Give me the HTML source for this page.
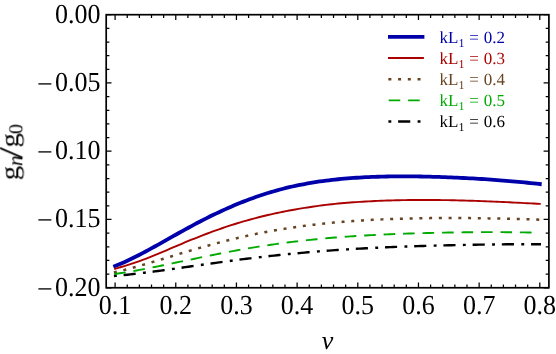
<!DOCTYPE html>
<html>
<head>
<meta charset="utf-8">
<title>g_n/g_0 vs nu</title>
<style>
html, body { margin: 0; padding: 0; background: #ffffff; }
body { width: 556px; height: 354px; overflow: hidden; }
svg { display: block; }
text { font-family: "Liberation Serif", serif; fill: #000; text-rendering: geometricPrecision; }
.tick { font-size: 26px; }
.leg { font-size: 17px; word-spacing: 0.6px; }
</style>
</head>
<body>
<svg width="556" height="354" viewBox="0 0 556 354">
<rect x="0" y="0" width="556" height="354" fill="#ffffff"/>
<g fill="none" stroke-linecap="square" stroke-linejoin="round">
<path d="M115.10 266.10 L118.16 264.84 L121.21 263.52 L124.27 262.15 L127.32 260.74 L130.38 259.29 L133.43 257.80 L136.49 256.27 L139.54 254.71 L142.60 253.12 L145.65 251.51 L148.71 249.87 L151.76 248.20 L154.82 246.52 L157.88 244.81 L160.93 243.09 L163.99 241.36 L167.04 239.64 L170.10 237.91 L173.15 236.18 L176.21 234.47 L179.26 232.76 L182.32 231.06 L185.37 229.38 L188.43 227.71 L191.48 226.05 L194.54 224.42 L197.60 222.80 L200.65 221.21 L203.71 219.64 L206.76 218.09 L209.82 216.57 L212.87 215.07 L215.93 213.61 L218.98 212.16 L222.04 210.75 L225.09 209.36 L228.15 208.00 L231.21 206.67 L234.26 205.36 L237.32 204.08 L240.37 202.84 L243.43 201.62 L246.48 200.43 L249.54 199.28 L252.59 198.16 L255.65 197.08 L258.70 196.02 L261.76 195.00 L264.81 194.02 L267.87 193.06 L270.93 192.13 L273.98 191.23 L277.04 190.37 L280.09 189.54 L283.15 188.73 L286.20 187.96 L289.26 187.22 L292.31 186.52 L295.37 185.84 L298.42 185.20 L301.48 184.59 L304.53 184.01 L307.59 183.46 L310.65 182.93 L313.70 182.42 L316.76 181.94 L319.81 181.49 L322.87 181.06 L325.92 180.65 L328.98 180.27 L332.03 179.91 L335.09 179.56 L338.14 179.25 L341.20 178.95 L344.25 178.67 L347.31 178.41 L350.37 178.16 L353.42 177.94 L356.48 177.73 L359.53 177.54 L362.59 177.37 L365.64 177.21 L368.70 177.07 L371.75 176.94 L374.81 176.83 L377.86 176.73 L380.92 176.64 L383.97 176.56 L387.03 176.50 L390.09 176.45 L393.14 176.41 L396.20 176.39 L399.25 176.37 L402.31 176.36 L405.36 176.36 L408.42 176.38 L411.47 176.40 L414.53 176.43 L417.58 176.47 L420.64 176.52 L423.69 176.57 L426.75 176.64 L429.81 176.71 L432.86 176.79 L435.92 176.88 L438.97 176.97 L442.03 177.07 L445.08 177.18 L448.14 177.30 L451.19 177.42 L454.25 177.55 L457.30 177.69 L460.36 177.83 L463.42 177.98 L466.47 178.14 L469.53 178.30 L472.58 178.47 L475.64 178.65 L478.69 178.83 L481.75 179.02 L484.80 179.22 L487.86 179.42 L490.91 179.63 L493.97 179.85 L497.02 180.08 L500.08 180.31 L503.14 180.55 L506.19 180.80 L509.25 181.06 L512.30 181.32 L515.36 181.59 L518.41 181.87 L521.47 182.16 L524.52 182.45 L527.58 182.75 L530.63 183.06 L533.69 183.38 L536.74 183.71 L539.80 184.04" stroke="#0000aa" stroke-width="3.8"/>
<path d="M115.10 268.84 L118.16 267.93 L121.21 267.01 L124.27 266.07 L127.32 265.12 L130.38 264.15 L133.43 263.15 L136.49 262.12 L139.54 261.04 L142.60 259.93 L145.65 258.77 L148.71 257.56 L151.76 256.35 L154.82 255.12 L157.88 253.87 L160.93 252.60 L163.99 251.32 L167.04 250.02 L170.10 248.72 L173.15 247.42 L176.21 246.11 L179.26 244.81 L182.32 243.52 L185.37 242.24 L188.43 240.98 L191.48 239.74 L194.54 238.51 L197.60 237.29 L200.65 236.09 L203.71 234.91 L206.76 233.75 L209.82 232.60 L212.87 231.48 L215.93 230.37 L218.98 229.29 L222.04 228.23 L225.09 227.20 L228.15 226.18 L231.21 225.19 L234.26 224.22 L237.32 223.27 L240.37 222.35 L243.43 221.44 L246.48 220.56 L249.54 219.71 L252.59 218.87 L255.65 218.06 L258.70 217.26 L261.76 216.49 L264.81 215.75 L267.87 215.02 L270.93 214.32 L273.98 213.64 L277.04 212.98 L280.09 212.34 L283.15 211.72 L286.20 211.12 L289.26 210.54 L292.31 209.99 L295.37 209.45 L298.42 208.92 L301.48 208.42 L304.53 207.93 L307.59 207.45 L310.65 206.98 L313.70 206.53 L316.76 206.10 L319.81 205.68 L322.87 205.28 L325.92 204.90 L328.98 204.53 L332.03 204.19 L335.09 203.87 L338.14 203.56 L341.20 203.28 L344.25 203.02 L347.31 202.76 L350.37 202.53 L353.42 202.30 L356.48 202.09 L359.53 201.88 L362.59 201.69 L365.64 201.52 L368.70 201.35 L371.75 201.19 L374.81 201.05 L377.86 200.91 L380.92 200.79 L383.97 200.67 L387.03 200.57 L390.09 200.47 L393.14 200.38 L396.20 200.30 L399.25 200.23 L402.31 200.17 L405.36 200.12 L408.42 200.07 L411.47 200.04 L414.53 200.01 L417.58 199.99 L420.64 199.97 L423.69 199.97 L426.75 199.97 L429.81 199.98 L432.86 199.99 L435.92 200.01 L438.97 200.04 L442.03 200.08 L445.08 200.12 L448.14 200.17 L451.19 200.23 L454.25 200.29 L457.30 200.35 L460.36 200.43 L463.42 200.51 L466.47 200.59 L469.53 200.68 L472.58 200.78 L475.64 200.88 L478.69 200.99 L481.75 201.10 L484.80 201.22 L487.86 201.34 L490.91 201.47 L493.97 201.60 L497.02 201.74 L500.08 201.88 L503.14 202.02 L506.19 202.16 L509.25 202.31 L512.30 202.46 L515.36 202.61 L518.41 202.77 L521.47 202.92 L524.52 203.08 L527.58 203.23 L530.63 203.39 L533.69 203.54 L536.74 203.69 L539.80 203.84" stroke="#aa0000" stroke-width="1.9"/>
<path d="M115.10 272.20 L118.16 271.50 L121.21 270.77 L124.27 270.01 L127.32 269.22 L130.38 268.41 L133.43 267.59 L136.49 266.74 L139.54 265.87 L142.60 265.00 L145.65 264.10 L148.71 263.20 L151.76 262.29 L154.82 261.37 L157.88 260.45 L160.93 259.52 L163.99 258.59 L167.04 257.66 L170.10 256.73 L173.15 255.80 L176.21 254.87 L179.26 253.94 L182.32 253.02 L185.37 252.11 L188.43 251.20 L191.48 250.30 L194.54 249.40 L197.60 248.52 L200.65 247.64 L203.71 246.77 L206.76 245.92 L209.82 245.07 L212.87 244.24 L215.93 243.42 L218.98 242.61 L222.04 241.82 L225.09 241.04 L228.15 240.27 L231.21 239.52 L234.26 238.78 L237.32 238.05 L240.37 237.34 L243.43 236.64 L246.48 235.96 L249.54 235.30 L252.59 234.65 L255.65 234.01 L258.70 233.39 L261.76 232.78 L264.81 232.19 L267.87 231.62 L270.93 231.05 L273.98 230.51 L277.04 229.98 L280.09 229.46 L283.15 228.96 L286.20 228.47 L289.26 228.00 L292.31 227.54 L295.37 227.09 L298.42 226.66 L301.48 226.24 L304.53 225.84 L307.59 225.45 L310.65 225.07 L313.70 224.70 L316.76 224.35 L319.81 224.01 L322.87 223.68 L325.92 223.36 L328.98 223.06 L332.03 222.76 L335.09 222.48 L338.14 222.21 L341.20 221.95 L344.25 221.70 L347.31 221.46 L350.37 221.23 L353.42 221.01 L356.48 220.80 L359.53 220.60 L362.59 220.40 L365.64 220.22 L368.70 220.05 L371.75 219.88 L374.81 219.72 L377.86 219.57 L380.92 219.43 L383.97 219.30 L387.03 219.17 L390.09 219.05 L393.14 218.94 L396.20 218.84 L399.25 218.74 L402.31 218.65 L405.36 218.57 L408.42 218.49 L411.47 218.42 L414.53 218.35 L417.58 218.29 L420.64 218.24 L423.69 218.19 L426.75 218.15 L429.81 218.12 L432.86 218.09 L435.92 218.06 L438.97 218.04 L442.03 218.03 L445.08 218.02 L448.14 218.01 L451.19 218.01 L454.25 218.02 L457.30 218.03 L460.36 218.04 L463.42 218.06 L466.47 218.09 L469.53 218.11 L472.58 218.15 L475.64 218.18 L478.69 218.22 L481.75 218.27 L484.80 218.32 L487.86 218.37 L490.91 218.42 L493.97 218.48 L497.02 218.54 L500.08 218.61 L503.14 218.68 L506.19 218.75 L509.25 218.82 L512.30 218.90 L515.36 218.98 L518.41 219.06 L521.47 219.14 L524.52 219.22 L527.58 219.31 L530.63 219.40 L533.69 219.48 L536.74 219.57 L539.80 219.66" stroke="#664422" stroke-width="2.5" stroke-dasharray="0.50 9.24"/>
<path d="M115.10 273.93 L118.16 273.50 L121.21 273.05 L124.27 272.57 L127.32 272.08 L130.38 271.56 L133.43 271.03 L136.49 270.49 L139.54 269.93 L142.60 269.36 L145.65 268.78 L148.71 268.19 L151.76 267.59 L154.82 266.97 L157.88 266.36 L160.93 265.73 L163.99 265.10 L167.04 264.47 L170.10 263.83 L173.15 263.19 L176.21 262.55 L179.26 261.91 L182.32 261.27 L185.37 260.62 L188.43 259.98 L191.48 259.34 L194.54 258.70 L197.60 258.07 L200.65 257.44 L203.71 256.81 L206.76 256.19 L209.82 255.57 L212.87 254.96 L215.93 254.35 L218.98 253.75 L222.04 253.16 L225.09 252.58 L228.15 252.00 L231.21 251.43 L234.26 250.86 L237.32 250.31 L240.37 249.76 L243.43 249.22 L246.48 248.70 L249.54 248.18 L252.59 247.67 L255.65 247.17 L258.70 246.67 L261.76 246.19 L264.81 245.72 L267.87 245.26 L270.93 244.81 L273.98 244.36 L277.04 243.93 L280.09 243.51 L283.15 243.10 L286.20 242.69 L289.26 242.30 L292.31 241.92 L295.37 241.55 L298.42 241.18 L301.48 240.83 L304.53 240.49 L307.59 240.15 L310.65 239.83 L313.70 239.51 L316.76 239.20 L319.81 238.91 L322.87 238.62 L325.92 238.34 L328.98 238.07 L332.03 237.81 L335.09 237.55 L338.14 237.31 L341.20 237.07 L344.25 236.84 L347.31 236.62 L350.37 236.41 L353.42 236.20 L356.48 236.00 L359.53 235.81 L362.59 235.62 L365.64 235.44 L368.70 235.27 L371.75 235.10 L374.81 234.94 L377.86 234.79 L380.92 234.64 L383.97 234.50 L387.03 234.36 L390.09 234.23 L393.14 234.10 L396.20 233.98 L399.25 233.87 L402.31 233.75 L405.36 233.65 L408.42 233.54 L411.47 233.44 L414.53 233.35 L417.58 233.26 L420.64 233.17 L423.69 233.09 L426.75 233.01 L429.81 232.93 L432.86 232.86 L435.92 232.79 L438.97 232.73 L442.03 232.67 L445.08 232.61 L448.14 232.55 L451.19 232.50 L454.25 232.45 L457.30 232.40 L460.36 232.36 L463.42 232.32 L466.47 232.29 L469.53 232.26 L472.58 232.23 L475.64 232.20 L478.69 232.18 L481.75 232.16 L484.80 232.15 L487.86 232.14 L490.91 232.13 L493.97 232.13 L497.02 232.14 L500.08 232.15 L503.14 232.16 L506.19 232.18 L509.25 232.20 L512.30 232.23 L515.36 232.27 L518.41 232.31 L521.47 232.37 L524.52 232.42 L527.58 232.49 L530.63 232.56 L533.69 232.64 L536.74 232.73 L539.80 232.83" stroke="#00aa00" stroke-width="1.9" stroke-dasharray="9.74 9.74"/>
<path d="M115.10 275.90 L118.16 275.63 L121.21 275.34 L124.27 275.04 L127.32 274.72 L130.38 274.39 L133.43 274.05 L136.49 273.70 L139.54 273.34 L142.60 272.96 L145.65 272.58 L148.71 272.20 L151.76 271.80 L154.82 271.40 L157.88 270.99 L160.93 270.58 L163.99 270.16 L167.04 269.73 L170.10 269.31 L173.15 268.88 L176.21 268.45 L179.26 268.02 L182.32 267.58 L185.37 267.14 L188.43 266.71 L191.48 266.27 L194.54 265.84 L197.60 265.40 L200.65 264.97 L203.71 264.53 L206.76 264.10 L209.82 263.67 L212.87 263.25 L215.93 262.82 L218.98 262.40 L222.04 261.98 L225.09 261.57 L228.15 261.16 L231.21 260.75 L234.26 260.35 L237.32 259.95 L240.37 259.56 L243.43 259.17 L246.48 258.79 L249.54 258.41 L252.59 258.04 L255.65 257.67 L258.70 257.31 L261.76 256.95 L264.81 256.60 L267.87 256.25 L270.93 255.91 L273.98 255.58 L277.04 255.25 L280.09 254.93 L283.15 254.62 L286.20 254.31 L289.26 254.00 L292.31 253.71 L295.37 253.42 L298.42 253.13 L301.48 252.85 L304.53 252.58 L307.59 252.31 L310.65 252.05 L313.70 251.80 L316.76 251.55 L319.81 251.30 L322.87 251.07 L325.92 250.84 L328.98 250.61 L332.03 250.39 L335.09 250.17 L338.14 249.96 L341.20 249.76 L344.25 249.56 L347.31 249.37 L350.37 249.18 L353.42 249.00 L356.48 248.82 L359.53 248.64 L362.59 248.48 L365.64 248.31 L368.70 248.15 L371.75 248.00 L374.81 247.84 L377.86 247.70 L380.92 247.56 L383.97 247.42 L387.03 247.28 L390.09 247.15 L393.14 247.02 L396.20 246.90 L399.25 246.78 L402.31 246.66 L405.36 246.55 L408.42 246.44 L411.47 246.33 L414.53 246.23 L417.58 246.13 L420.64 246.03 L423.69 245.93 L426.75 245.84 L429.81 245.75 L432.86 245.66 L435.92 245.58 L438.97 245.50 L442.03 245.42 L445.08 245.34 L448.14 245.27 L451.19 245.20 L454.25 245.13 L457.30 245.06 L460.36 244.99 L463.42 244.93 L466.47 244.87 L469.53 244.81 L472.58 244.76 L475.64 244.70 L478.69 244.65 L481.75 244.60 L484.80 244.56 L487.86 244.51 L490.91 244.47 L493.97 244.43 L497.02 244.40 L500.08 244.37 L503.14 244.34 L506.19 244.31 L509.25 244.29 L512.30 244.27 L515.36 244.26 L518.41 244.24 L521.47 244.24 L524.52 244.23 L527.58 244.23 L530.63 244.24 L533.69 244.25 L536.74 244.26 L539.80 244.28" stroke="#000000" stroke-width="2.4" stroke-dasharray="0.50 9.24 9.74 9.74"/>
</g>
<path d="M115.10 287.75 v-5.3 M115.10 14.7 v5.3 M127.23 287.75 v-3.2 M127.23 14.7 v3.2 M139.37 287.75 v-3.2 M139.37 14.7 v3.2 M151.50 287.75 v-3.2 M151.50 14.7 v3.2 M163.64 287.75 v-3.2 M163.64 14.7 v3.2 M175.77 287.75 v-5.3 M175.77 14.7 v5.3 M187.91 287.75 v-3.2 M187.91 14.7 v3.2 M200.04 287.75 v-3.2 M200.04 14.7 v3.2 M212.17 287.75 v-3.2 M212.17 14.7 v3.2 M224.31 287.75 v-3.2 M224.31 14.7 v3.2 M236.44 287.75 v-5.3 M236.44 14.7 v5.3 M248.58 287.75 v-3.2 M248.58 14.7 v3.2 M260.71 287.75 v-3.2 M260.71 14.7 v3.2 M272.85 287.75 v-3.2 M272.85 14.7 v3.2 M284.98 287.75 v-3.2 M284.98 14.7 v3.2 M297.11 287.75 v-5.3 M297.11 14.7 v5.3 M309.25 287.75 v-3.2 M309.25 14.7 v3.2 M321.38 287.75 v-3.2 M321.38 14.7 v3.2 M333.52 287.75 v-3.2 M333.52 14.7 v3.2 M345.65 287.75 v-3.2 M345.65 14.7 v3.2 M357.79 287.75 v-5.3 M357.79 14.7 v5.3 M369.92 287.75 v-3.2 M369.92 14.7 v3.2 M382.05 287.75 v-3.2 M382.05 14.7 v3.2 M394.19 287.75 v-3.2 M394.19 14.7 v3.2 M406.32 287.75 v-3.2 M406.32 14.7 v3.2 M418.46 287.75 v-5.3 M418.46 14.7 v5.3 M430.59 287.75 v-3.2 M430.59 14.7 v3.2 M442.73 287.75 v-3.2 M442.73 14.7 v3.2 M454.86 287.75 v-3.2 M454.86 14.7 v3.2 M466.99 287.75 v-3.2 M466.99 14.7 v3.2 M479.13 287.75 v-5.3 M479.13 14.7 v5.3 M491.26 287.75 v-3.2 M491.26 14.7 v3.2 M503.40 287.75 v-3.2 M503.40 14.7 v3.2 M515.53 287.75 v-3.2 M515.53 14.7 v3.2 M527.67 287.75 v-3.2 M527.67 14.7 v3.2 M539.80 287.75 v-5.3 M539.80 14.7 v5.3 M106.2 14.70 h5.3 M548.9 14.70 h-5.3 M106.2 28.35 h3.2 M548.9 28.35 h-3.2 M106.2 42.00 h3.2 M548.9 42.00 h-3.2 M106.2 55.66 h3.2 M548.9 55.66 h-3.2 M106.2 69.31 h3.2 M548.9 69.31 h-3.2 M106.2 82.96 h5.3 M548.9 82.96 h-5.3 M106.2 96.61 h3.2 M548.9 96.61 h-3.2 M106.2 110.27 h3.2 M548.9 110.27 h-3.2 M106.2 123.92 h3.2 M548.9 123.92 h-3.2 M106.2 137.57 h3.2 M548.9 137.57 h-3.2 M106.2 151.22 h5.3 M548.9 151.22 h-5.3 M106.2 164.88 h3.2 M548.9 164.88 h-3.2 M106.2 178.53 h3.2 M548.9 178.53 h-3.2 M106.2 192.18 h3.2 M548.9 192.18 h-3.2 M106.2 205.84 h3.2 M548.9 205.84 h-3.2 M106.2 219.49 h5.3 M548.9 219.49 h-5.3 M106.2 233.14 h3.2 M548.9 233.14 h-3.2 M106.2 246.79 h3.2 M548.9 246.79 h-3.2 M106.2 260.44 h3.2 M548.9 260.44 h-3.2 M106.2 274.10 h3.2 M548.9 274.10 h-3.2 M106.2 287.75 h5.3 M548.9 287.75 h-5.3" stroke="#000" stroke-width="1.25" fill="none"/>
<rect x="106.2" y="14.7" width="442.70" height="273.05" fill="none" stroke="#000" stroke-width="1.7"/>
<g opacity="0.999">
<text class="tick" transform="translate(115.10 314.3) scale(1 1.055)" text-anchor="middle">0.1</text>
<text class="tick" transform="translate(175.77 314.3) scale(1 1.055)" text-anchor="middle">0.2</text>
<text class="tick" transform="translate(236.44 314.3) scale(1 1.055)" text-anchor="middle">0.3</text>
<text class="tick" transform="translate(297.11 314.3) scale(1 1.055)" text-anchor="middle">0.4</text>
<text class="tick" transform="translate(357.79 314.3) scale(1 1.055)" text-anchor="middle">0.5</text>
<text class="tick" transform="translate(418.46 314.3) scale(1 1.055)" text-anchor="middle">0.6</text>
<text class="tick" transform="translate(479.13 314.3) scale(1 1.055)" text-anchor="middle">0.7</text>
<text class="tick" transform="translate(539.80 314.3) scale(1 1.055)" text-anchor="middle">0.8</text>
<text class="tick" transform="translate(100.5 22.60) scale(1 1.055)" text-anchor="end">0.00</text>
<text class="tick" transform="translate(100.5 90.86) scale(1 1.055)" text-anchor="end">0.05</text>
<text class="tick" transform="translate(52.8 92.86) scale(1.07 1.055)" text-anchor="end">−</text>
<text class="tick" transform="translate(100.5 159.12) scale(1 1.055)" text-anchor="end">0.10</text>
<text class="tick" transform="translate(52.8 161.12) scale(1.07 1.055)" text-anchor="end">−</text>
<text class="tick" transform="translate(100.5 227.39) scale(1 1.055)" text-anchor="end">0.15</text>
<text class="tick" transform="translate(52.8 229.39) scale(1.07 1.055)" text-anchor="end">−</text>
<text class="tick" transform="translate(100.5 295.65) scale(1 1.055)" text-anchor="end">0.20</text>
<text class="tick" transform="translate(52.8 297.65) scale(1.07 1.055)" text-anchor="end">−</text>
<text x="327.6" y="348.8" text-anchor="middle" font-size="26" font-style="italic">ν</text>
<g transform="translate(18.3 179.3) rotate(-90)">
<text transform="translate(-0.95 0) scale(1.115 1)" font-size="26">g</text>
<text x="13.3" y="4.1" font-size="21" font-style="italic">n</text>
<text transform="translate(20.5 3.9) scale(1.63 1.3)" font-size="26">/</text>
<text transform="translate(31.65 0) scale(1.115 1)" font-size="26">g</text>
<text x="45.3" y="4.4" font-size="20">0</text>
</g>
<path d="M388.0 36.90 H424.4" fill="none" stroke="#0000aa" stroke-width="3.8"/>
<text class="leg" x="439.6" y="42.70" style="fill:#0000aa">kL<tspan font-size="12" dy="4">1</tspan><tspan dy="-4"> = 0.2</tspan></text>
<path d="M388.0 58.05 H423.9" fill="none" stroke="#aa0000" stroke-width="1.9"/>
<text class="leg" x="439.6" y="63.85" style="fill:#aa0000">kL<tspan font-size="12" dy="4">1</tspan><tspan dy="-4"> = 0.3</tspan></text>
<path d="M389.6 79.20 H422.60" fill="none" stroke-linecap="square" stroke="#664422" stroke-width="2.5" stroke-dasharray="0.50 9.23"/>
<text class="leg" x="439.6" y="85.00" style="fill:#664422">kL<tspan font-size="12" dy="4">1</tspan><tspan dy="-4"> = 0.4</tspan></text>
<path d="M389.6 100.35 H422.60" fill="none" stroke-linecap="square" stroke="#00aa00" stroke-width="1.9" stroke-dasharray="9.73 9.73"/>
<text class="leg" x="439.6" y="106.15" style="fill:#00aa00">kL<tspan font-size="12" dy="4">1</tspan><tspan dy="-4"> = 0.5</tspan></text>
<path d="M389.6 121.50 H422.60" fill="none" stroke-linecap="square" stroke="#000000" stroke-width="2.4" stroke-dasharray="0.50 9.23 9.73 9.73"/>
<text class="leg" x="439.6" y="127.30" style="fill:#000000">kL<tspan font-size="12" dy="4">1</tspan><tspan dy="-4"> = 0.6</tspan></text>
</g>
</svg>
</body>
</html>
